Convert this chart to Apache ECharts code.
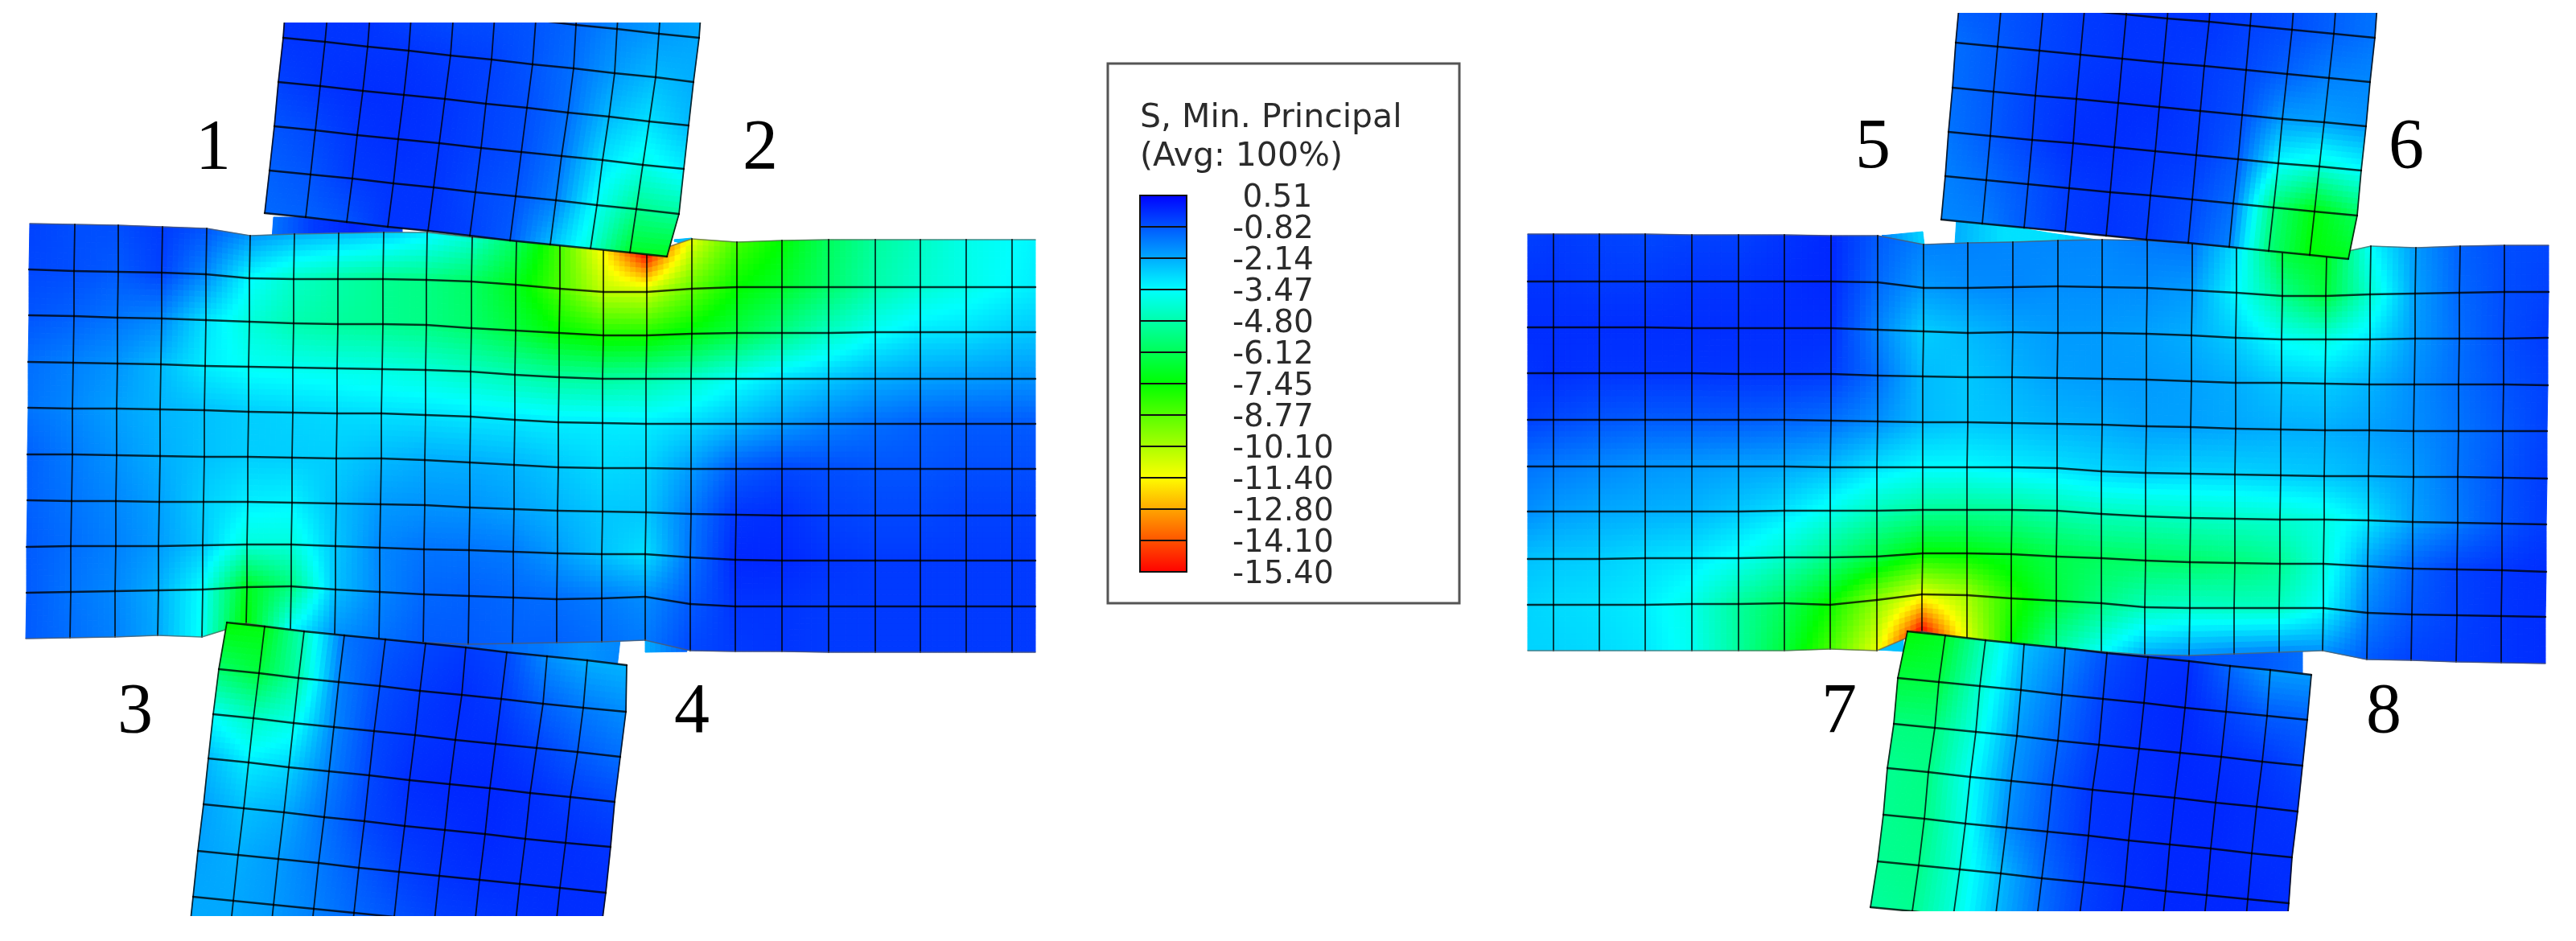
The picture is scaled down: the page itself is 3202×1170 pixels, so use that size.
<!DOCTYPE html>
<html><head><meta charset="utf-8">
<style>html,body{margin:0;padding:0;background:#fff}#c{width:3202px;height:1170px}</style>
<script src="https://cdn.jsdelivr.net/npm/echarts@6/dist/echarts.min.js"></script>
</head><body><div id="c"></div>
<script>
// ---------- legend ----------
const legendLabels=['0.51','-0.82','-2.14','-3.47','-4.80','-6.12','-7.45','-8.77','-10.10','-11.40','-12.80','-14.10','-15.40'];
const palette=[[0,0,255],[0,255,255],[0,255,0],[255,255,0],[255,0,0]];
const legendTitle='S, Min. Principal\n(Avg: 100%)';
// ---------- region numbers ----------
const regionNames=['1','2','3','4','5','6','7','8'];
const regionX=[265,945,168,860,2328,2991,2286,2963];
const regionY=[186,186,887,887,185,185,887,887];
// ---------- left beam mesh ----------
const beamLX=[
[37,93,147,202,257,311,366,421,477,531,587,642,696,750,804,860,916,972,1030,1088,1144,1201,1258,1287],
[36,92,147,201,256,310,365,420,476,530,586,641,696,750,804,860,916,972,1030,1088,1144,1201,1258,1287],
[36,92,146,201,256,310,365,420,476,530,586,641,695,750,804,860,916,972,1030,1088,1144,1201,1258,1287],
[35,91,146,200,255,309,364,419,475,529,585,640,695,749,803,859,915,972,1030,1088,1144,1201,1258,1287],
[35,90,145,199,254,309,364,419,474,529,585,640,694,749,803,859,915,972,1030,1088,1144,1201,1258,1287],
[34,90,145,199,254,308,363,418,474,528,584,639,694,749,803,859,915,972,1030,1088,1144,1201,1258,1287],
[34,89,144,198,253,308,363,418,473,528,584,639,693,749,803,859,915,972,1030,1088,1144,1201,1258,1287],
[33,88,144,197,252,307,362,417,472,527,583,638,693,748,802,858,914,972,1030,1088,1144,1201,1258,1287],
[33,88,143,197,252,307,362,417,472,527,583,638,692,748,802,858,914,972,1030,1088,1144,1201,1258,1287],
[32,87,143,196,251,306,361,416,471,526,582,637,692,748,802,858,914,972,1030,1088,1144,1201,1258,1287]];
const beamLY=[
[278,279,280,282,284,293,291,290,289,289,295,299,304,310,316,297,301,299,298,298,298,298,298,298],
[335,337,338,339,341,346,347,347,347,348,350,354,359,363,363,359,357,357,357,357,357,357,357,357],
[392,393,395,396,398,400,402,403,403,404,408,411,414,417,417,415,414,414,414,413,413,413,413,413],
[450,451,452,453,455,456,457,458,459,460,462,466,469,471,471,471,471,471,471,471,471,471,471,471],
[507,508,508,509,510,512,513,514,514,516,518,522,525,526,527,527,527,527,527,527,527,527,527,527],
[565,565,566,567,568,568,569,570,570,572,575,578,581,582,582,583,583,583,583,583,583,583,583,583],
[622,623,623,624,624,624,625,626,627,628,631,633,635,636,637,639,640,641,641,641,641,641,641,641],
[680,679,679,679,678,677,677,679,681,683,684,686,688,689,689,693,696,697,697,697,697,697,697,697],
[737,736,735,734,733,730,729,733,736,739,741,743,745,744,742,751,754,754,754,754,754,754,754,754],
[794,793,792,790,792,775,783,789,795,799,801,800,799,798,796,809,810,810,811,811,811,811,811,811]];
const beamLS=[
[-0.5,-0.7,-0.7,-0.4,-0.8,-1.8,-2.2,-2.4,-2.6,-3.2,-4.2,-6.0,-8.5,-11.5,-15.4,-11.0,-8.5,-7.4,-6.0,-5.0,-4.4,-3.8,-3.5,-3.3],
[-0.6,-0.7,-0.9,-0.5,-1.6,-3.4,-4.3,-4.8,-5.2,-5.4,-5.9,-7.0,-8.6,-10.4,-10.6,-9.0,-7.5,-6.8,-5.8,-4.8,-4.2,-3.8,-3.4,-3.2],
[-0.8,-1.0,-1.3,-1.6,-3.0,-4.0,-4.7,-5.0,-5.2,-5.4,-5.8,-6.5,-7.4,-7.8,-7.8,-7.2,-6.4,-5.4,-4.4,-3.6,-3.1,-3.0,-2.7,-2.6],
[-1.2,-1.5,-1.8,-2.4,-3.2,-3.6,-3.7,-3.8,-3.9,-4.1,-4.4,-4.7,-5.0,-5.0,-4.8,-4.3,-3.6,-3.0,-2.6,-2.2,-2.0,-1.9,-1.8,-1.8],
[-1.3,-1.6,-2.0,-2.3,-2.5,-2.7,-2.8,-2.9,-3.0,-3.0,-3.1,-3.1,-3.2,-3.2,-3.2,-2.9,-2.4,-1.9,-1.5,-1.2,-1.0,-0.9,-0.9,-0.9],
[-1.0,-1.4,-1.8,-2.2,-2.5,-2.7,-2.7,-2.7,-2.4,-2.2,-2.2,-2.3,-2.6,-2.9,-2.8,-1.9,-0.9,-0.6,-0.7,-0.8,-0.8,-0.7,-0.7,-0.7],
[-1.0,-1.3,-1.6,-2.0,-2.7,-3.2,-3.3,-2.5,-1.9,-1.8,-1.8,-2.0,-2.3,-2.6,-2.6,-1.4,-0.3,-0.2,-0.5,-0.6,-0.6,-0.5,-0.5,-0.5],
[-0.9,-1.2,-1.5,-1.9,-2.6,-4.0,-4.0,-2.6,-1.6,-1.3,-1.3,-1.4,-1.9,-2.5,-3.0,-1.3,-0.1,-0.1,-0.3,-0.4,-0.4,-0.4,-0.4,-0.4],
[-0.9,-1.3,-1.6,-2.2,-3.5,-7.0,-5.5,-2.5,-1.6,-1.1,-1.0,-1.1,-1.2,-1.4,-1.7,-0.9,-0.3,-0.3,-0.4,-0.4,-0.4,-0.4,-0.4,-0.4],
[-0.9,-1.2,-1.5,-2.1,-3.6,-7.5,-3.5,-1.8,-1.3,-0.9,-0.9,-1.0,-1.0,-1.2,-1.4,-0.6,-0.4,-0.3,-0.4,-0.4,-0.4,-0.4,-0.4,-0.4]];
// ---------- right beam mesh ----------
const beamRX=[
[1899,1931,1988,2045,2103,2161,2218,2276,2334,2391,2446,2502,2558,2613,2669,2725,2780,2837,2892,2947,3003,3058,3113,3168],
[1899,1931,1988,2045,2103,2161,2218,2276,2334,2391,2446,2502,2558,2613,2669,2725,2780,2837,2891,2946,3002,3057,3113,3168],
[1899,1931,1988,2045,2103,2161,2218,2276,2334,2391,2446,2502,2558,2613,2668,2724,2779,2836,2891,2946,3002,3057,3112,3167],
[1899,1931,1988,2045,2103,2161,2218,2276,2334,2390,2446,2501,2557,2613,2668,2724,2779,2836,2890,2945,3001,3056,3112,3167],
[1899,1931,1988,2045,2103,2161,2218,2276,2334,2390,2446,2501,2557,2613,2668,2723,2779,2835,2890,2945,3000,3056,3111,3166],
[1899,1931,1988,2045,2103,2161,2218,2275,2333,2390,2445,2501,2557,2612,2667,2723,2778,2835,2889,2944,3000,3055,3111,3166],
[1899,1931,1988,2045,2103,2161,2218,2275,2333,2390,2445,2501,2557,2612,2667,2723,2778,2834,2889,2944,2999,3055,3110,3165],
[1899,1931,1988,2045,2103,2161,2218,2275,2333,2390,2445,2500,2556,2612,2667,2722,2778,2834,2888,2943,2999,3054,3110,3165],
[1899,1931,1988,2045,2103,2161,2218,2275,2333,2389,2445,2500,2556,2612,2666,2722,2777,2833,2888,2943,2998,3054,3109,3164],
[1899,1931,1988,2045,2103,2161,2218,2275,2333,2389,2445,2500,2556,2612,2666,2721,2777,2833,2887,2942,2997,3053,3109,3164]];
const beamRY=[
[291,291,291,291,292,292,292,293,293,304,302,301,299,298,299,303,308,312,318,306,308,306,305,305],
[350,350,350,350,350,350,350,350,351,358,358,357,356,357,358,361,364,368,368,366,365,364,363,363],
[407,407,407,407,408,408,408,408,410,412,414,413,414,414,415,417,420,422,422,422,421,421,421,420],
[464,464,464,464,464,465,465,465,467,468,469,469,470,471,472,474,476,476,477,478,478,478,478,479],
[522,522,522,522,522,522,522,523,524,525,525,526,527,528,530,531,533,534,535,535,536,536,536,536],
[580,580,580,580,580,580,580,581,581,581,581,581,582,586,588,589,590,591,592,592,593,593,594,595],
[636,636,636,636,636,636,635,635,635,634,634,634,635,639,642,644,645,646,646,647,649,650,651,652],
[695,695,695,694,694,694,693,693,692,688,688,689,692,694,697,699,700,701,701,704,707,708,709,711],
[752,752,752,752,751,751,750,752,746,739,740,744,747,750,755,756,756,756,756,762,764,765,766,767],
[809,809,809,809,809,809,809,807,809,785,795,800,805,810,814,815,813,811,809,820,821,823,824,825]];
const beamRS=[
[-0.5,-0.4,-0.5,-0.6,-0.5,-0.5,-0.3,-0.1,-0.9,-1.5,-1.5,-1.6,-1.6,-1.6,-1.4,-1.3,-3.0,-6.5,-7.0,-3.5,-1.9,-1.0,-0.7,-0.6],
[-0.3,-0.3,-0.4,-0.4,-0.3,-0.3,-0.2,-0.1,-1.1,-1.9,-1.7,-1.6,-1.7,-1.7,-1.7,-1.9,-3.4,-5.2,-6.5,-4.2,-2.0,-1.1,-0.7,-0.5],
[-0.2,-0.2,-0.2,-0.2,-0.2,-0.2,-0.2,-0.2,-1.5,-2.7,-2.4,-2.1,-1.9,-1.9,-2.0,-2.2,-2.7,-3.6,-3.9,-3.1,-1.9,-1.2,-0.7,-0.4],
[-0.3,-0.2,-0.3,-0.3,-0.3,-0.3,-0.3,-0.4,-1.2,-2.4,-2.6,-2.3,-2.0,-1.9,-1.9,-2.0,-2.2,-2.6,-2.7,-2.3,-1.7,-1.2,-0.8,-0.5],
[-0.5,-0.6,-0.8,-0.9,-0.9,-0.9,-1.0,-1.2,-1.7,-2.4,-2.6,-2.5,-2.3,-2.2,-2.0,-2.0,-2.1,-2.2,-2.2,-2.0,-1.7,-1.3,-0.9,-0.5],
[-1.3,-1.4,-1.6,-1.8,-1.9,-2.0,-2.1,-2.4,-3.0,-3.4,-3.4,-3.2,-3.0,-2.8,-2.7,-2.8,-2.8,-2.7,-2.6,-2.3,-1.9,-1.3,-0.8,-0.4],
[-1.7,-1.9,-2.1,-2.2,-2.3,-2.6,-3.0,-3.7,-4.5,-5.0,-5.1,-5.0,-4.7,-4.5,-4.5,-4.4,-4.3,-4.2,-3.9,-3.1,-2.0,-1.4,-0.8,-0.4],
[-2.5,-2.6,-2.7,-2.9,-3.1,-3.6,-4.3,-5.3,-6.4,-7.4,-7.3,-6.9,-6.3,-6.0,-5.9,-5.8,-5.6,-5.2,-4.0,-2.0,-1.0,-0.5,-0.3,-0.2],
[-2.8,-2.9,-3.0,-3.2,-3.8,-5.0,-6.0,-7.6,-9.6,-11.0,-10.0,-8.0,-6.5,-5.4,-4.5,-4.3,-4.4,-4.4,-3.5,-1.5,-0.8,-0.5,-0.3,-0.2],
[-2.8,-2.8,-2.9,-3.1,-3.7,-5.0,-6.5,-8.5,-11.0,-15.4,-11.0,-7.5,-5.0,-3.6,-2.2,-1.8,-1.6,-1.6,-1.8,-0.9,-0.5,-0.4,-0.3,-0.2]];
// ---------- upper-left block ----------
const blockULX=[
[360,413,465,516,568,619,670,720,771,823,873],
[356,409,461,512,564,615,666,716,767,819,869],
[352,404,457,508,560,611,662,713,764,815,862],
[346,398,451,502,553,604,655,706,757,807,856],
[341,392,444,495,546,598,648,698,749,799,850],
[335,386,438,489,539,591,641,691,742,791,844],
[329,380,431,482,532,584,634,684,734,783,829]];
const blockULY=[
[-63,-58,-52,-47,-41,-36,-30,-24,-19,-13,-8],
[-8,-3,3,8,14,19,25,31,36,42,47],
[47,52,58,63,69,74,80,85,91,96,102],
[102,107,113,118,123,129,134,140,145,151,156],
[157,162,168,173,178,184,189,194,199,205,210],
[212,217,222,228,233,239,244,249,255,260,266],
[265,270,276,282,287,293,299,304,309,314,319]];
const blockULS=[
[-0.3,-0.3,-0.3,-0.6,-0.7,-0.7,-0.8,-1.1,-1.6,-1.9,-2.1],
[-0.3,-0.3,-0.3,-0.6,-0.7,-0.7,-0.8,-1.1,-1.6,-1.9,-2.1],
[-0.3,-0.3,-0.3,-0.3,-0.4,-0.5,-0.8,-1.2,-1.9,-2.4,-2.2],
[-0.5,-0.3,-0.2,-0.2,-0.3,-0.5,-0.7,-1.2,-2.4,-3.0,-2.4],
[-0.8,-0.6,-0.3,-0.2,-0.3,-0.5,-0.7,-1.3,-3.0,-3.8,-3.2],
[-1.0,-0.8,-0.4,-0.3,-0.3,-0.6,-0.8,-1.5,-3.6,-5.2,-5.0],
[-1.1,-1.0,-0.8,-0.3,-0.3,-0.5,-0.9,-2.4,-4.0,-6.8,-7.0]];
// ---------- upper-right block ----------
const blockURX=[
[2440,2492,2544,2595,2647,2698,2750,2801,2853,2905,2956],
[2436,2488,2540,2591,2643,2694,2746,2797,2849,2901,2952],
[2431,2483,2535,2586,2638,2689,2740,2792,2843,2895,2946],
[2427,2478,2530,2581,2633,2684,2735,2787,2837,2889,2941],
[2422,2474,2526,2577,2628,2679,2730,2782,2832,2883,2935],
[2418,2469,2521,2572,2623,2673,2725,2776,2826,2877,2930],
[2413,2464,2516,2567,2618,2668,2720,2771,2820,2871,2919]];
const blockURY=[
[-57,-52,-47,-42,-37,-32,-28,-23,-18,-13,-8],
[-2,3,8,13,18,23,27,32,37,42,47],
[53,58,63,68,73,78,82,87,92,97,102],
[109,114,119,123,128,133,138,143,148,152,157],
[164,169,174,178,183,188,193,198,203,207,212],
[219,224,229,234,239,243,248,253,258,263,268],
[273,278,283,288,293,298,302,307,312,317,322]];
const blockURS=[
[-0.9,-0.8,-0.6,-0.4,-0.3,-0.3,-0.3,-0.5,-0.7,-1.0,-1.3],
[-0.9,-0.8,-0.6,-0.4,-0.3,-0.3,-0.3,-0.5,-0.7,-1.0,-1.3],
[-1.2,-0.9,-0.6,-0.4,-0.3,-0.3,-0.4,-0.6,-1.0,-1.5,-1.6],
[-1.2,-0.9,-0.5,-0.3,-0.2,-0.2,-0.4,-0.7,-1.9,-2.0,-1.8],
[-1.3,-0.9,-0.5,-0.2,-0.2,-0.3,-0.4,-0.9,-3.4,-4.0,-3.5],
[-1.5,-1.2,-0.8,-0.4,-0.3,-0.4,-0.6,-1.2,-5.5,-7.3,-6.0],
[-1.6,-1.5,-0.9,-0.4,-0.3,-0.4,-0.7,-1.5,-5.5,-7.4,-7.0]];
// ---------- lower-left block ----------
const blockLLX=[
[282,329,378,428,479,529,579,630,680,730,779],
[272,322,371,421,472,522,574,623,675,725,778],
[265,315,365,415,465,516,566,616,667,718,771],
[259,309,359,409,459,509,559,609,659,709,764],
[253,303,353,403,453,503,553,603,653,703,759],
[246,296,346,396,446,496,546,596,646,696,753],
[240,290,340,390,440,490,540,590,640,690,746],
[234,284,334,384,434,484,534,584,634,684,740]];
const blockLLY=[
[774,779,785,790,795,800,805,811,816,821,827],
[832,837,843,848,853,859,864,869,875,880,885],
[888,893,899,904,909,914,920,925,930,935,941],
[943,948,954,959,964,970,975,980,986,991,997],
[1000,1005,1010,1016,1021,1027,1032,1037,1043,1048,1053],
[1058,1063,1068,1073,1079,1084,1089,1094,1099,1104,1110],
[1115,1120,1125,1130,1135,1140,1145,1150,1155,1160,1166],
[1172,1177,1182,1187,1192,1197,1202,1207,1212,1217,1222]];
const blockLLS=[
[-7.5,-7.2,-4.5,-1.3,-0.9,-0.6,-0.4,-0.6,-1.7,-2.2,-2.3],
[-5.8,-6.5,-4.8,-1.5,-0.7,-0.4,-0.2,-0.4,-1.0,-1.4,-1.7],
[-3.6,-4.4,-3.8,-1.6,-0.6,-0.3,-0.2,-0.2,-0.5,-0.9,-1.2],
[-2.4,-3.2,-2.8,-1.5,-0.6,-0.2,-0.1,-0.1,-0.2,-0.4,-0.6],
[-2.0,-2.5,-2.2,-1.3,-0.6,-0.3,-0.2,-0.1,-0.2,-0.2,-0.3],
[-2.0,-2.2,-1.9,-1.4,-0.9,-0.5,-0.3,-0.2,-0.2,-0.2,-0.2],
[-2.1,-2.1,-1.9,-1.5,-1.1,-0.8,-0.5,-0.4,-0.3,-0.2,-0.2],
[-2.2,-2.1,-1.9,-1.5,-1.2,-0.9,-0.6,-0.4,-0.3,-0.2,-0.2]];
// ---------- lower-right block ----------
const blockLRX=[
[2371,2418,2468,2516,2567,2619,2670,2721,2772,2822,2873],
[2359,2410,2461,2512,2563,2614,2665,2716,2767,2818,2868],
[2354,2405,2456,2507,2558,2609,2659,2710,2761,2812,2862],
[2346,2397,2449,2500,2551,2601,2652,2703,2754,2805,2856],
[2341,2392,2443,2494,2545,2596,2646,2697,2748,2799,2849],
[2334,2385,2436,2487,2538,2590,2641,2692,2743,2794,2845],
[2325,2377,2428,2480,2531,2583,2634,2686,2737,2789,2840]];
const blockLRY=[
[785,790,796,801,806,812,817,822,828,833,839],
[843,848,853,858,864,869,874,880,885,890,895],
[900,905,910,915,921,926,931,936,941,947,952],
[955,960,966,971,976,982,987,992,998,1003,1009],
[1013,1018,1024,1029,1034,1039,1045,1050,1055,1061,1066],
[1071,1076,1081,1086,1092,1097,1102,1108,1113,1118,1123],
[1128,1133,1139,1144,1149,1155,1160,1165,1170,1176,1181]];
const blockLRS=[
[-7.4,-6.9,-4.5,-2.5,-1.7,-0.7,-0.3,-0.2,-1.1,-1.9,-1.9],
[-6.5,-6.4,-4.2,-2.2,-1.3,-0.5,-0.2,-0.1,-0.5,-0.9,-1.0],
[-5.5,-5.5,-3.9,-1.9,-1.1,-0.4,-0.2,-0.1,-0.2,-0.3,-0.6],
[-5.2,-5.4,-3.6,-1.8,-0.9,-0.3,-0.2,-0.1,-0.1,-0.2,-0.3],
[-5.2,-5.4,-3.8,-1.7,-0.9,-0.3,-0.2,-0.1,-0.1,-0.2,-0.2],
[-5.2,-5.3,-4.0,-2.4,-1.2,-0.5,-0.2,-0.1,-0.1,-0.1,-0.2],
[-5.0,-5.2,-4.0,-2.4,-1.3,-0.5,-0.2,-0.1,-0.1,-0.1,-0.2]];
// ---------- plate slivers seen past the blocks ----------
const sliverA={x:[[340,390,440,500],[338,390,440,500]],y:[[270,270,275,280],[298,298,298,298]],s:[[-1.3,-0.4,-0.1,-0.6],[-1.3,-0.4,-0.1,-0.6]]};
const sliverB={x:[[520,676,725,771],[520,676,725,767]],y:[[795,795,795,795],[830,830,830,830]],s:[[-0.6,-1.4,-1.8,-1.6],[-0.6,-1.4,-1.8,-1.6]]};
const sliverC={x:[[802,854],[802,854]],y:[[796,808],[811,810]],s:[[-2.2,-1.0],[-2.2,-1.0]]};
const sliverD={x:[[2432,2490,2550,2620],[2430,2490,2550,2620]],y:[[272,280,290,300],[303,303,303,303]],s:[[-2.2,-3.0,-3.0,-2.0],[-2.2,-3.0,-3.0,-2.0]]};
const sliverE={x:[[2339,2390],[2340,2392]],y:[[293,288],[294,305]],s:[[-1.5,-2.8],[-1.5,-2.8]]};
const sliverF={x:[[2622,2765,2815,2862],[2622,2765,2815,2862]],y:[[808,808,808,808],[845,845,845,845]],s:[[-0.3,-0.9,-0.9,-1.2],[-0.3,-0.9,-0.9,-1.2]]};
const sliverG={x:[[2335,2366],[2335,2366]],y:[[807,795],[808,810]],s:[[-2.5,-2.5],[-2.5,-2.5]]};
const sliverH={x:[[838,860],[838,860]],y:[[298,296],[300,306]],s:[[-2.4,-2.4],[-2.4,-2.4]]};

const SUB=8, vTop=parseFloat(legendLabels[0]), vBot=parseFloat(legendLabels[12]);
function stressColor(v){
  let t=(vTop-v)/(vTop-vBot); t=Math.max(0,Math.min(1,t))*4;
  const i=Math.min(3,Math.floor(t)), f=t-i, a=palette[i], b=palette[i+1];
  return 'rgb('+Math.round(a[0]+(b[0]-a[0])*f)+','+Math.round(a[1]+(b[1]-a[1])*f)+','+Math.round(a[2]+(b[2]-a[2])*f)+')';
}
function cellRows(X,Y,S){
  const out=[];
  for(let r=0;r<X.length-1;r++)for(let c=0;c<X[r].length-1;c++)
    out.push([X[r][c],Y[r][c],S[r][c],X[r][c+1],Y[r][c+1],S[r][c+1],X[r+1][c+1],Y[r+1][c+1],S[r+1][c+1],X[r+1][c],Y[r+1][c],S[r+1][c]]);
  return out;
}
// kind: 0 upright mesh line, 1 lengthwise mesh line, 2 soft outer edge of a beam
function edgeRows(X,Y,softRim){
  const out=[], last=X.length-1;
  for(let r=0;r<X.length;r++)for(let c=0;c<X[r].length;c++){
    const lastC=X[r].length-1;
    if(c<lastC)out.push([X[r][c],Y[r][c],X[r][c+1],Y[r][c+1],(softRim&&(r===0||r===last))?2:1]);
    if(r<last&&!(softRim&&(c===0||c===lastC)))out.push([X[r][c],Y[r][c],X[r+1][c],Y[r+1][c],0]);
  }
  return out;
}
function renderCell(params,api){
  const v=i=>api.value(i);
  const p=[0,3,6,9].map(k=>api.coord([v(k),v(k+1)]));
  const s=[v(2),v(5),v(8),v(11)];
  const at=(u,w)=>[
    (1-w)*((1-u)*p[0][0]+u*p[1][0])+w*((1-u)*p[3][0]+u*p[2][0]),
    (1-w)*((1-u)*p[0][1]+u*p[1][1])+w*((1-u)*p[3][1]+u*p[2][1])];
  const children=[];
  for(let a=0;a<SUB;a++)for(let b=0;b<SUB;b++){
    const u=a/SUB,u2=(a+1)/SUB,w=b/SUB,w2=(b+1)/SUB,um=(a+.5)/SUB,wm=(b+.5)/SUB;
    const val=(1-wm)*((1-um)*s[0]+um*s[1])+wm*((1-um)*s[3]+um*s[2]);
    const col=stressColor(val);
    children.push({type:'polygon',shape:{points:[at(u,w),at(u2,w),at(u2,w2),at(u,w2)]},
      style:{fill:col,stroke:col,lineWidth:1},silent:true});
  }
  return {type:'group',children};
}
const edgeStyles=[
  {stroke:'rgba(0,0,0,0.8)',lineWidth:1.8,lineCap:'round'},
  {stroke:'rgba(0,0,0,0.78)',lineWidth:2.4,lineCap:'round'},
  {stroke:'rgba(90,90,90,0.7)',lineWidth:1.6,lineCap:'round'}];
function renderEdge(params,api){
  const a=api.coord([api.value(0),api.value(1)]),b=api.coord([api.value(2),api.value(3)]);
  return {type:'line',shape:{x1:a[0],y1:a[1],x2:b[0],y2:b[1]},style:edgeStyles[api.value(4)],silent:true};
}
function fillSeries(X,Y,S,pane){
  return {type:'custom',coordinateSystem:'cartesian2d',xAxisIndex:pane,yAxisIndex:pane,clip:true,
    renderItem:renderCell,data:cellRows(X,Y,S),animation:false,progressive:0,silent:true};
}
function lineSeries(X,Y,pane,softRim){
  return {type:'custom',coordinateSystem:'cartesian2d',xAxisIndex:pane,yAxisIndex:pane,clip:true,
    renderItem:renderEdge,data:edgeRows(X,Y,softRim),animation:false,progressive:0,silent:true};
}
const W=3202,H=1170;
// panes: whole page, then one per block so each is cut where the picture cuts it
const paneCuts=[[0,H],[28,H],[16,H],[0,1139],[0,1133]];
const grids=paneCuts.map(c=>({left:0,width:W,top:c[0],height:c[1]-c[0]}));
const xAxes=paneCuts.map((c,i)=>({type:'value',gridIndex:i,min:0,max:W,show:false}));
const yAxes=paneCuts.map((c,i)=>({type:'value',gridIndex:i,min:c[0],max:c[1],inverse:true,show:false}));
// legend box pane
grids.push({left:1377,top:79,width:437,height:671,show:true,backgroundColor:'#fff',borderColor:'#555',borderWidth:3});
xAxes.push({type:'value',gridIndex:5,min:0,max:1,show:false});
yAxes.push({type:'value',gridIndex:5,min:0,max:1,show:false});
// legend bar pane: ticks
grids.push({left:1417,top:243,width:58,height:468});
xAxes.push({type:'value',gridIndex:6,min:0,max:1,show:false});
yAxes.push({type:'value',gridIndex:6,min:0,max:12,interval:1,inverse:true,position:'right',
  axisLine:{show:false},splitLine:{show:false},axisLabel:{show:false},
  axisTick:{show:true,length:20,lineStyle:{color:'#333',width:2}}});
// legend labels pane: same scale, set a few pixels lower as in the picture
grids.push({left:1417,top:247,width:58,height:468});
xAxes.push({type:'value',gridIndex:7,min:0,max:1,show:false});
yAxes.push({type:'value',gridIndex:7,min:0,max:12,interval:1,inverse:true,position:'right',
  axisLine:{show:false},splitLine:{show:false},axisTick:{show:false},
  axisLabel:{show:true,margin:57,align:'left',color:'#2b2b2b',fontFamily:'DejaVu Sans',fontSize:39,hideOverlap:false,
    showMinLabel:true,showMaxLabel:true,
    formatter:(v)=>{const s=legendLabels[Math.round(v)];return s.charAt(0)==='-'?s:'\u00a0'+s;}}});
const series=[];
[sliverA,sliverB,sliverC,sliverD,sliverE,sliverF,sliverG,sliverH].forEach(s=>series.push(fillSeries(s.x,s.y,s.s,0)));
series.push(fillSeries(beamLX,beamLY,beamLS,0),lineSeries(beamLX,beamLY,0,true));
series.push(fillSeries(beamRX,beamRY,beamRS,0),lineSeries(beamRX,beamRY,0,true));
series.push(fillSeries(blockULX,blockULY,blockULS,1),lineSeries(blockULX,blockULY,1,false));
series.push(fillSeries(blockURX,blockURY,blockURS,2),lineSeries(blockURX,blockURY,2,false));
series.push(fillSeries(blockLLX,blockLLY,blockLLS,3),lineSeries(blockLLX,blockLLY,3,false));
series.push(fillSeries(blockLRX,blockLRY,blockLRS,4),lineSeries(blockLRX,blockLRY,4,false));
// legend bands
series.push({type:'custom',coordinateSystem:'cartesian2d',xAxisIndex:6,yAxisIndex:6,animation:false,silent:true,clip:false,
  data:legendLabels.slice(0,12).map((s,i)=>[i,parseFloat(s),parseFloat(legendLabels[i+1])]),
  renderItem:(params,api)=>{
    const i=api.value(0),a=api.coord([0,i]),b=api.coord([1,i+1]);
    return {type:'rect',shape:{x:a[0],y:a[1],width:b[0]-a[0],height:b[1]-a[1]},
      style:{fill:new echarts.graphic.LinearGradient(0,0,0,1,[
        {offset:0,color:stressColor(api.value(1))},{offset:1,color:stressColor(api.value(2))}]),
        stroke:'#111',lineWidth:2}};
  }});
// region numbers
series.push({type:'scatter',xAxisIndex:0,yAxisIndex:0,symbolSize:1,itemStyle:{color:'rgba(255,255,255,0)'},animation:false,silent:true,z:5,
  data:regionNames.map((n,i)=>({name:n,value:[regionX[i],regionY[i]]})),
  label:{show:true,position:'inside',formatter:'{b}',color:'#000',fontFamily:'Liberation Serif',fontSize:88,opacity:1}});
const chart=echarts.init(document.getElementById('c'),null,{renderer:'canvas'});
chart.setOption({animation:false,backgroundColor:'#fff',
  title:{text:legendTitle,left:1417,top:123,padding:0,textStyle:{fontFamily:'DejaVu Sans',fontSize:41,fontWeight:'normal',color:'#2b2b2b',lineHeight:48}},
  grid:grids,xAxis:xAxes,yAxis:yAxes,series});
</script></body></html>
